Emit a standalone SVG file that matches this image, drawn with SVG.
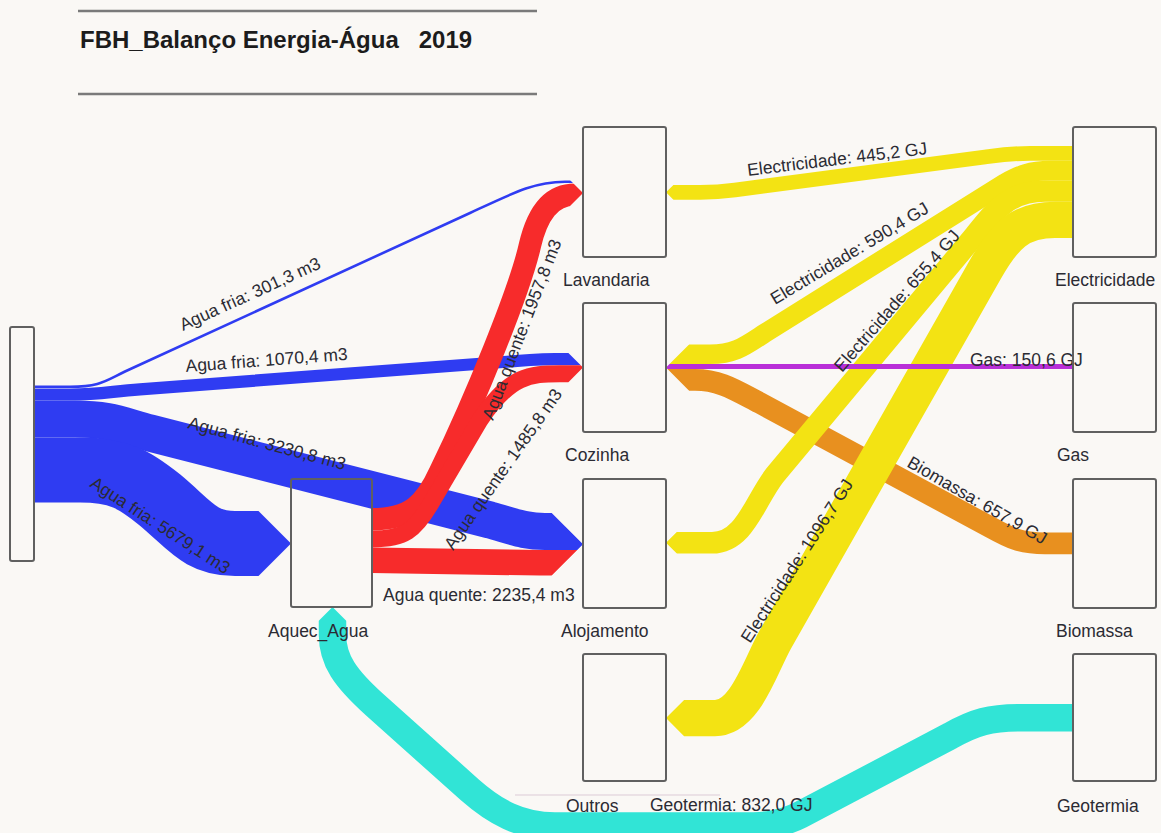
<svg xmlns="http://www.w3.org/2000/svg" width="1161" height="833" viewBox="0 0 1161 833">
  <defs>
    <style>
      .bg{fill:#faf8f5}
      .box{fill:none;stroke:#606060;stroke-width:2}
      .lbl{font-family:"Liberation Sans",Arial,sans-serif;font-size:17.5px;fill:#2b2b33}
      .title{font-family:"Liberation Sans",Arial,sans-serif;font-size:24px;font-weight:bold;fill:#1c1c1c;white-space:pre}
      .rule{stroke:#7a7a7a;stroke-width:2.5}
      .flow{fill:none;stroke-linecap:butt;stroke-linejoin:round}
      .cold{stroke:#2f3cf2}
      .hot{stroke:#f72b2b}
      .elec{stroke:#f3e313}
      .gas{stroke:#b92fd8}
      .bio{stroke:#e8901f}
      .geo{stroke:#31e4d6}
    </style>
    <!-- arrowheads: each clip keeps everything behind the node edge plus the pointed tip -->
    <clipPath id="in-lav-w"><polygon points="0,0 570,0 570,180 583,193 570,206 570,833 0,833"/></clipPath>
    <clipPath id="in-coz-w"><polygon points="0,0 568.4,0 568.4,353 583,367.6 568.4,382.2 568.4,833 0,833"/></clipPath>
    <clipPath id="in-alo-w"><polygon points="0,0 551.7,0 551.7,513 583,544.3 551.7,575.6 551.7,833 0,833"/></clipPath>
    <clipPath id="in-aq-w"><polygon points="0,0 258.5,0 258.5,511 291,543.5 258.5,576 258.5,833 0,833"/></clipPath>
    <clipPath id="in-lav-e"><polygon points="1161,0 673.4,0 673.4,185 666,192.3 673.4,199.7 673.4,833 1161,833"/></clipPath>
    <clipPath id="in-coz-e"><polygon points="1161,0 689.1,0 689.1,344.5 666,367.6 689.1,390.7 689.1,833 1161,833"/></clipPath>
    <clipPath id="in-alo-e"><polygon points="1161,0 676.8,0 676.8,532 666,542.8 676.8,553.6 676.8,833 1161,833"/></clipPath>
    <clipPath id="in-out-e"><polygon points="1161,0 684.1,0 684.1,700 666,718.1 684.1,736.2 684.1,833 1161,833"/></clipPath>
    <clipPath id="in-aq-geo"><polygon points="0,620.75 318.75,620.75 332.5,607 346.25,620.75 1161,620.75 1161,833 0,833"/></clipPath>
  </defs>

  <rect class="bg" x="0" y="0" width="1161" height="833"/>

  <g id="title">
    <line class="rule" x1="78" y1="11" x2="537" y2="11"/>
    <line class="rule" x1="78" y1="94" x2="537" y2="94"/>
    <text class="title" x="80" y="48" xml:space="preserve">FBH_Balanço Energia-Água   2019</text>
  </g>

  <g id="connectors">
    <!-- cold water -->
    <path class="flow cold" clip-path="url(#in-lav-w)" stroke-width="2.6" d="M34,386.7 L70,386.7 C100,386.7 105,381 125,371.5 L470,213 C515,192 535,181.7 565,181.7 L583,181.7"/>
    <path class="flow cold" clip-path="url(#in-coz-w)" stroke-width="12.2" d="M34,394.5 L70,394.5 C100,394.5 110,391.5 140,389.3 L530,360 C540,359.3 545,359.1 555,359.1 L583,359.1"/>
    <path class="flow cold" clip-path="url(#in-alo-w)" stroke-width="37" d="M34,419.1 L75,419.1 C110,419.1 120,425 150,433 L490,520 C515,527 525,531.5 545,531.5 L583,531.5"/>
    <path class="flow cold" clip-path="url(#in-aq-w)" stroke-width="65" d="M34,470.1 L80,470.1 C120,470.1 135,480 160,500 C190,525 200,543.5 235,543.5 L291,543.5"/>
    <!-- hot water -->
    <path class="flow hot" clip-path="url(#in-lav-w)" stroke-width="22.4" d="M372,519.2 C410,519.2 425,505 440,472 C475,400 520,290 530,245 C537,215 550,194.6 575,194.6 L583,194.6"/>
    <path class="flow hot" clip-path="url(#in-coz-w)" stroke-width="17" d="M372,538.9 C405,538.9 415,530 430,505 L480,420 C510,375 530,373.7 560,373.7 L583,373.7"/>
    <path class="flow hot" clip-path="url(#in-alo-w)" stroke-width="25.6" d="M372,560.2 L540,562.8 L583,562.8"/>
    <!-- biomass -->
    <path class="flow bio" clip-path="url(#in-coz-e)" stroke-width="21.7" d="M1073,543.3 L1045,543.3 C1020,543.3 1010,538 990,527 L760,403 C735,390 720,379.9 695,379.9 L666,379.9"/>
    <!-- electricity -->
    <path class="flow elec" clip-path="url(#in-lav-e)" stroke-width="14.7" d="M1073,153.4 L1030,153.4 C1010,153.4 1000,155 985,157 L735,190 C720,192 715,192.3 700,192.3 L666,192.3"/>
    <path class="flow elec" clip-path="url(#in-coz-e)" stroke-width="19.5" d="M1073,170.5 L1050,170.5 C1030,170.5 1020,175 1005,183 L765,333 C745,346 735,354.3 710,354.3 L666,354.3"/>
    <path class="flow elec" clip-path="url(#in-alo-e)" stroke-width="21.6" d="M1073,191 L1045,191 C1010,191 995,210 975,235 L775,475 C755,500 745,542.8 712,542.8 L666,542.8"/>
    <path class="flow elec" clip-path="url(#in-out-e)" stroke-width="36.2" d="M1073,219.9 L1055,219.9 C1020,219.9 1005,235 985,270 L775,640 C760,667 745,718.1 715,718.1 L666,718.1"/>
    <!-- gas -->
    <path class="flow gas" clip-path="url(#in-coz-e)" stroke-width="5" d="M1073,366.5 L666,366.5"/>
    <!-- geothermal -->
    <path class="flow geo" clip-path="url(#in-aq-geo)" stroke-width="27.5" d="M1073,717.8 L1020,717.8 C990,717.8 975,722 950,736 L800,815 C780,825 765,826 740,826 L555,826 C520,826 495,812 470,790 L375,705 C345,678 332.5,660 332.5,635 L332.5,607"/>
    <line x1="515" y1="795" x2="720" y2="795" stroke="#dccbd6" stroke-width="1"/>

    <!-- flow labels -->
    <text class="lbl" transform="translate(183,331) rotate(-24.5)">Agua fria: 301,3 m3</text>
    <text class="lbl" transform="translate(186,372) rotate(-4.3)">Agua fria: 1070,4 m3</text>
    <text class="lbl" transform="translate(187,428) rotate(15)">Agua fria: 3230,8 m3</text>
    <text class="lbl" transform="translate(89,486) rotate(33)">Agua fria: 5679,1 m3</text>
    <text class="lbl" transform="translate(493,421) rotate(-69)">Agua quente: 1957,8 m3</text>
    <text class="lbl" transform="translate(453,551) rotate(-55)">Agua quente: 1485,8 m3</text>
    <text class="lbl" x="383" y="601">Agua quente: 2235,4 m3</text>
    <text class="lbl" transform="translate(748,176) rotate(-7)">Electricidade: 445,2 GJ</text>
    <text class="lbl" transform="translate(775,305) rotate(-31)">Electricidade: 590,4 GJ</text>
    <text class="lbl" transform="translate(842,373) rotate(-49)">Electricidade: 655,4 GJ</text>
    <text class="lbl" transform="translate(750,644) rotate(-57)">Electricidade: 1096,7 GJ</text>
    <text class="lbl" x="970" y="366">Gas: 150,6 GJ</text>
    <text class="lbl" transform="translate(906,466) rotate(30)">Biomassa: 657,9 GJ</text>
    <text class="lbl" x="650" y="811">Geotermia: 832,0 GJ</text>
  </g>

  <g id="node-agua-fria"><rect class="box" x="10" y="327" width="24" height="234" rx="2"/></g>
  <g id="node-aquec-agua"><rect class="box" x="291" y="479" width="81" height="128" rx="2"/><text class="lbl" x="268" y="637">Aquec_Agua</text></g>
  <g id="node-lavandaria"><rect class="box" x="583" y="127" width="83" height="130" rx="2"/><text class="lbl" x="563" y="286">Lavandaria</text></g>
  <g id="node-cozinha"><rect class="box" x="583" y="303" width="83" height="129" rx="2"/><text class="lbl" x="565" y="461">Cozinha</text></g>
  <g id="node-alojamento"><rect class="box" x="583" y="479" width="83" height="129" rx="2"/><text class="lbl" x="561" y="637">Alojamento</text></g>
  <g id="node-outros"><rect class="box" x="583" y="654" width="83" height="127" rx="2"/><text class="lbl" x="566" y="812">Outros</text></g>
  <g id="node-electricidade"><rect class="box" x="1073" y="127" width="83" height="130" rx="2"/><text class="lbl" x="1055" y="286">Electricidade</text></g>
  <g id="node-gas"><rect class="box" x="1073" y="303" width="83" height="129" rx="2"/><text class="lbl" x="1057" y="461">Gas</text></g>
  <g id="node-biomassa"><rect class="box" x="1073" y="479" width="83" height="129" rx="2"/><text class="lbl" x="1056" y="637">Biomassa</text></g>
  <g id="node-geotermia"><rect class="box" x="1073" y="654" width="83" height="127" rx="2"/><text class="lbl" x="1057" y="812">Geotermia</text></g>
</svg>
